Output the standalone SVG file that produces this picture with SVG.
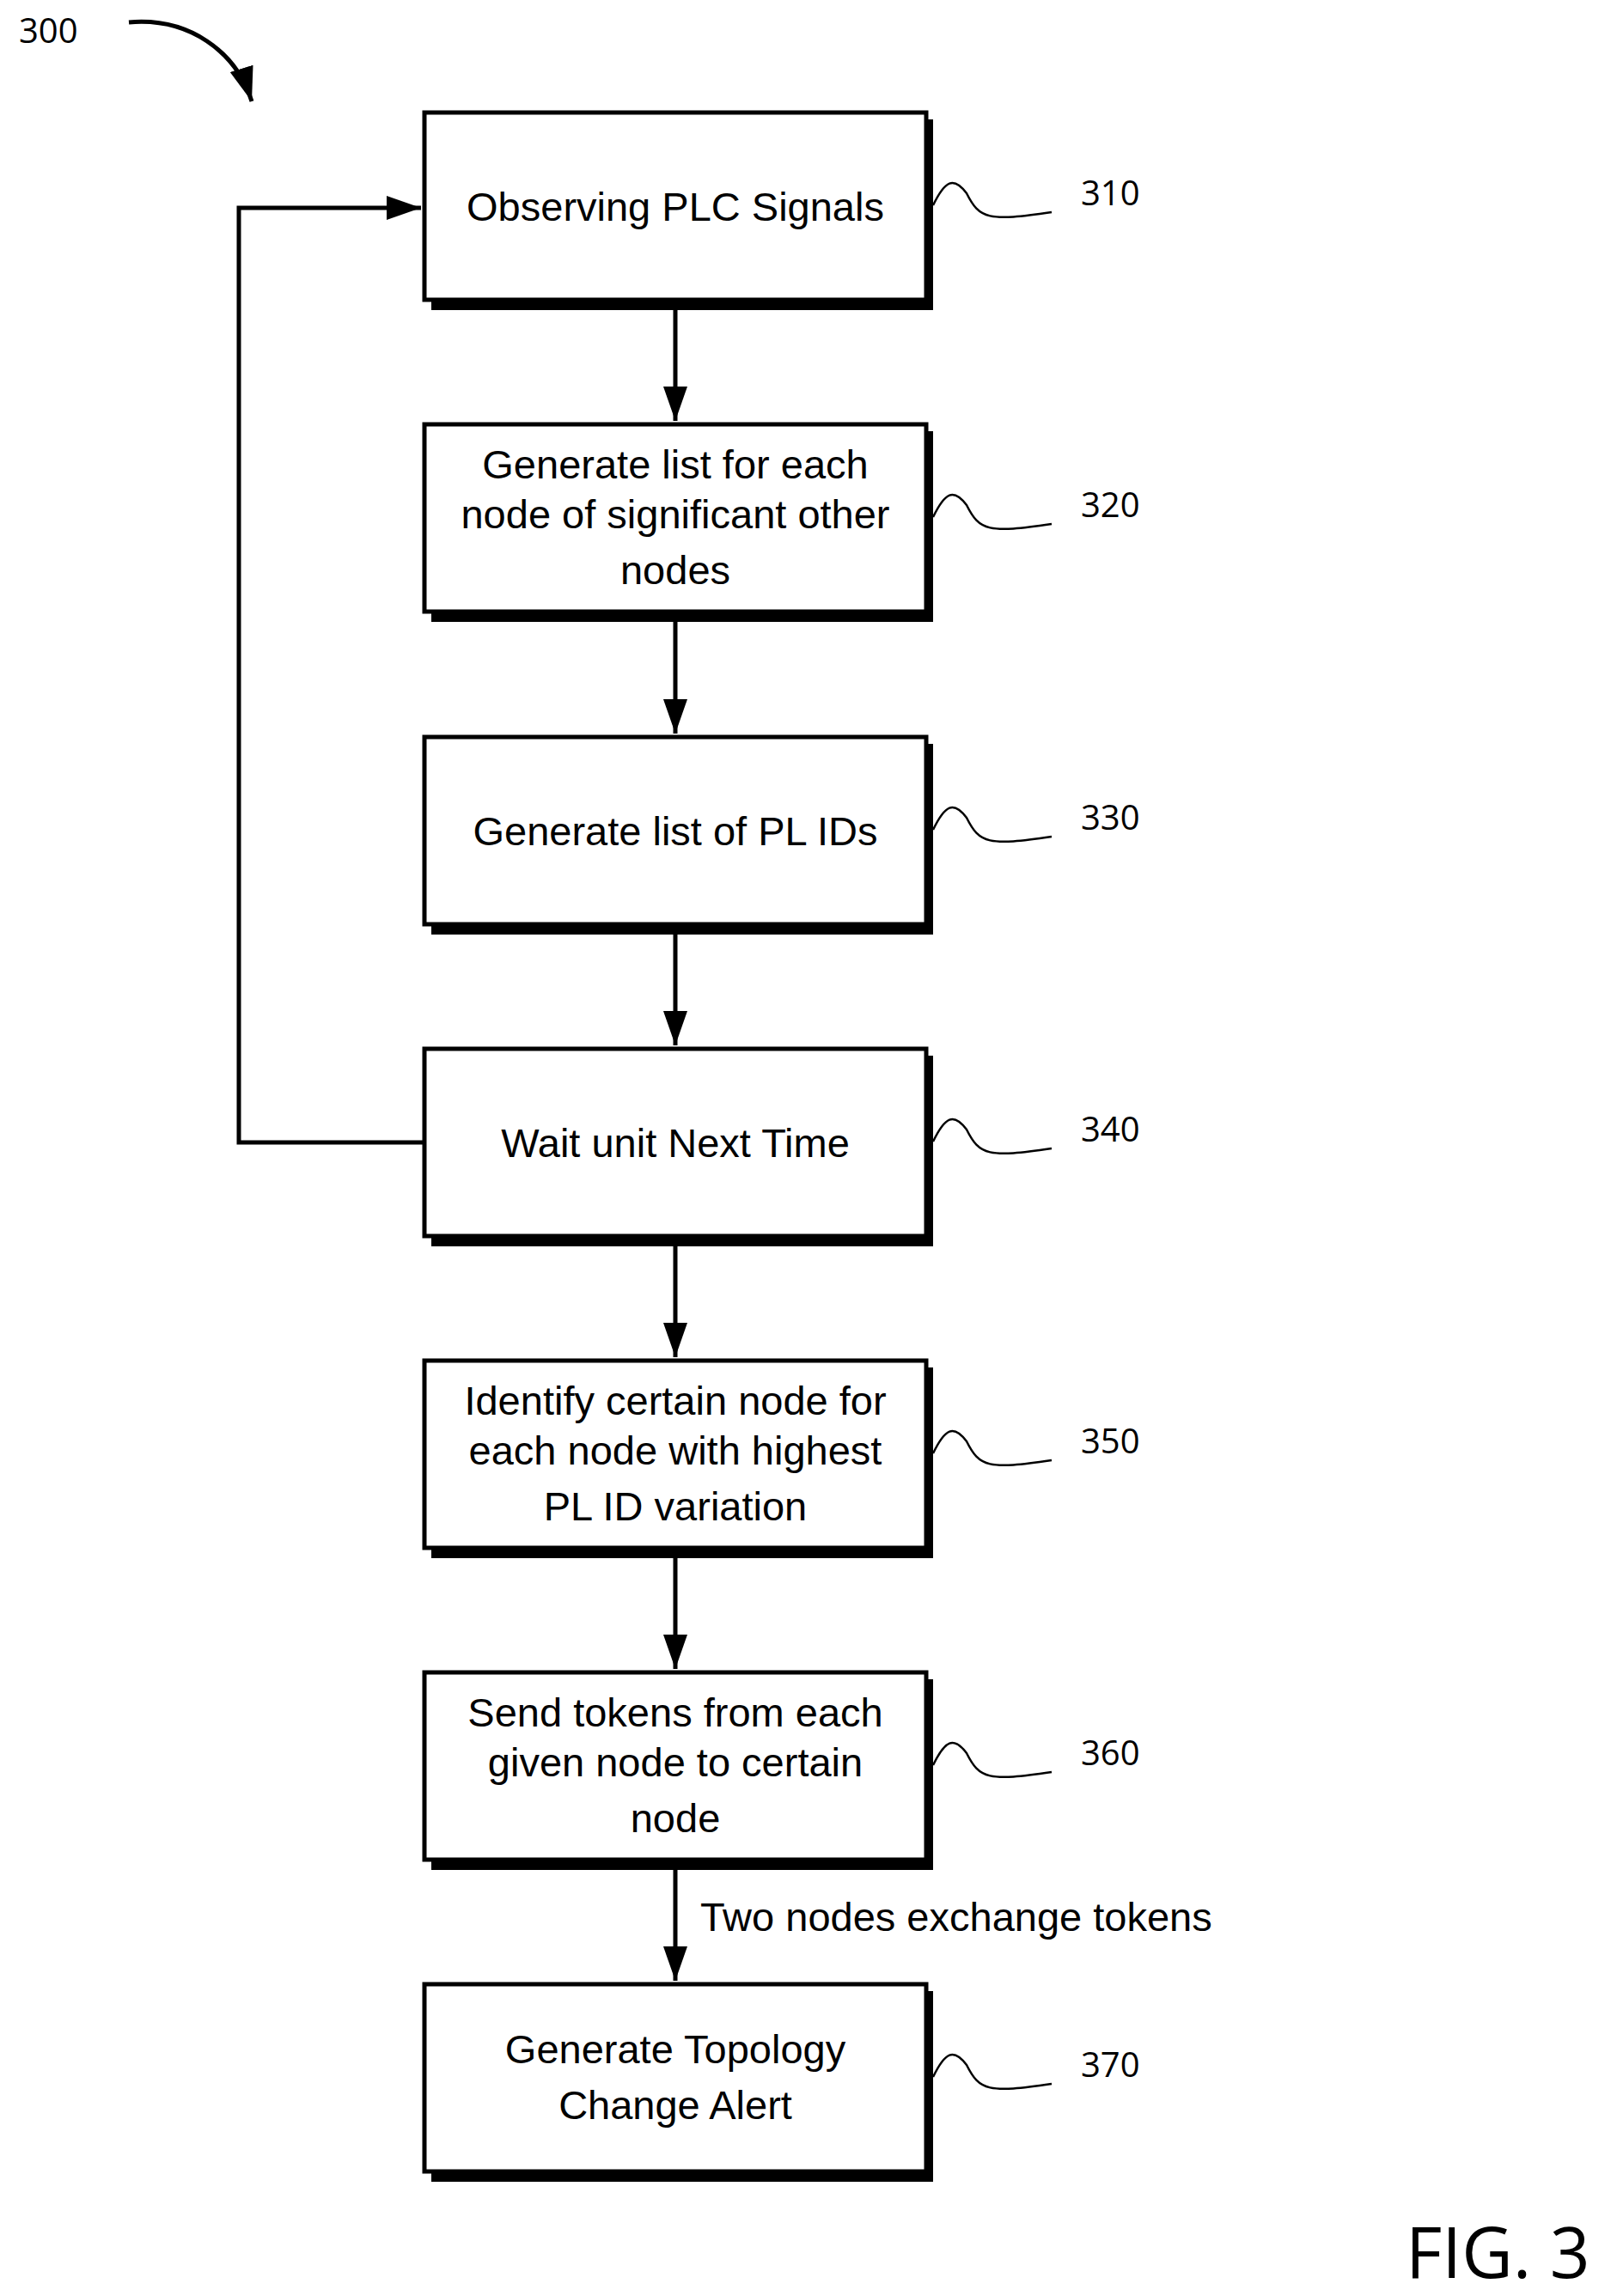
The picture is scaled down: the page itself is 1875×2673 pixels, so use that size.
<svg xmlns="http://www.w3.org/2000/svg" width="1875" height="2673" viewBox="0 0 1875 2673">
<style>
.b{fill:#fff;stroke:#000;stroke-width:5}
.s{fill:#000}
.t{font-family:"Liberation Sans",Arial,sans-serif;font-size:47px;text-anchor:middle;fill:#000}
.r{font-family:"Open Sans","Liberation Sans",sans-serif;font-size:40px;fill:#000}
.l{fill:none;stroke:#000;stroke-width:5}
.q{fill:none;stroke:#000;stroke-width:2.5}
</style>
<defs>
<marker id="ah" viewBox="0 0 10 10" refX="10" refY="5" markerWidth="40" markerHeight="40" markerUnits="userSpaceOnUse" orient="auto"><path d="M0,1.5 L10,5 L0,8.5 z" fill="#000"/></marker>
</defs>
<text class="r" x="22" y="50">300</text>
<g id="connectors">
<path d="M150,26 C220,20 275,60 293,118" class="l" stroke-width="6" marker-end="url(#ah)"/>
<path d="M786,361 V490" class="l" marker-end="url(#ah)"/>
<path d="M786,724 V854" class="l" marker-end="url(#ah)"/>
<path d="M786,1088 V1217" class="l" marker-end="url(#ah)"/>
<path d="M786,1451 V1580" class="l" marker-end="url(#ah)"/>
<path d="M786,1814 V1943" class="l" marker-end="url(#ah)"/>
<path d="M786,2177 V2306" class="l" marker-end="url(#ah)"/>
<path d="M494,1330 H278 V242 H490" class="l" marker-end="url(#ah)"/>
<text class="t" x="815" y="2248" style="text-anchor:start">Two nodes exchange tokens</text>
</g>
<g id="n310"><rect class="s" x="502" y="139" width="584" height="222"/><rect class="b" x="494" y="131" width="584" height="218"/><text class="t" x="786" y="257">Observing PLC Signals</text><path class="q" d="M1086,239 C1100,210 1110,205 1125,225 C1140,255 1150,258 1224,247"/><text class="r" x="1258" y="239">310</text></g>
<g id="n320"><rect class="s" x="502" y="502" width="584" height="222"/><rect class="b" x="494" y="494" width="584" height="218"/><text class="t" x="786" y="557">Generate list for each</text><text class="t" x="786" y="615">node of significant other</text><text class="t" x="786" y="680">nodes</text><path class="q" d="M1086,602 C1100,573 1110,568 1125,588 C1140,618 1150,621 1224,610"/><text class="r" x="1258" y="602">320</text></g>
<g id="n330"><rect class="s" x="502" y="866" width="584" height="222"/><rect class="b" x="494" y="858" width="584" height="218"/><text class="t" x="786" y="984">Generate list of PL IDs</text><path class="q" d="M1086,966 C1100,937 1110,932 1125,952 C1140,982 1150,985 1224,974"/><text class="r" x="1258" y="966">330</text></g>
<g id="n340"><rect class="s" x="502" y="1229" width="584" height="222"/><rect class="b" x="494" y="1221" width="584" height="218"/><text class="t" x="786" y="1347">Wait unit Next Time</text><path class="q" d="M1086,1329 C1100,1300 1110,1295 1125,1315 C1140,1345 1150,1348 1224,1337"/><text class="r" x="1258" y="1329">340</text></g>
<g id="n350"><rect class="s" x="502" y="1592" width="584" height="222"/><rect class="b" x="494" y="1584" width="584" height="218"/><text class="t" x="786" y="1647">Identify certain node for</text><text class="t" x="786" y="1705">each node with highest</text><text class="t" x="786" y="1770">PL ID variation</text><path class="q" d="M1086,1692 C1100,1663 1110,1658 1125,1678 C1140,1708 1150,1711 1224,1700"/><text class="r" x="1258" y="1692">350</text></g>
<g id="n360"><rect class="s" x="502" y="1955" width="584" height="222"/><rect class="b" x="494" y="1947" width="584" height="218"/><text class="t" x="786" y="2010">Send tokens from each</text><text class="t" x="786" y="2068">given node to certain</text><text class="t" x="786" y="2133">node</text><path class="q" d="M1086,2055 C1100,2026 1110,2021 1125,2041 C1140,2071 1150,2074 1224,2063"/><text class="r" x="1258" y="2055">360</text></g>
<g id="n370"><rect class="s" x="502" y="2318" width="584" height="222"/><rect class="b" x="494" y="2310" width="584" height="218"/><text class="t" x="786" y="2402">Generate Topology</text><text class="t" x="786" y="2467">Change Alert</text><path class="q" d="M1086,2418 C1100,2389 1110,2384 1125,2404 C1140,2434 1150,2437 1224,2426"/><text class="r" x="1258" y="2418">370</text></g>
<text x="1636" y="2652" style="font-family:'Open Sans','Noto Sans',sans-serif;font-size:82px;fill:#000">FIG. 3</text>
</svg>
